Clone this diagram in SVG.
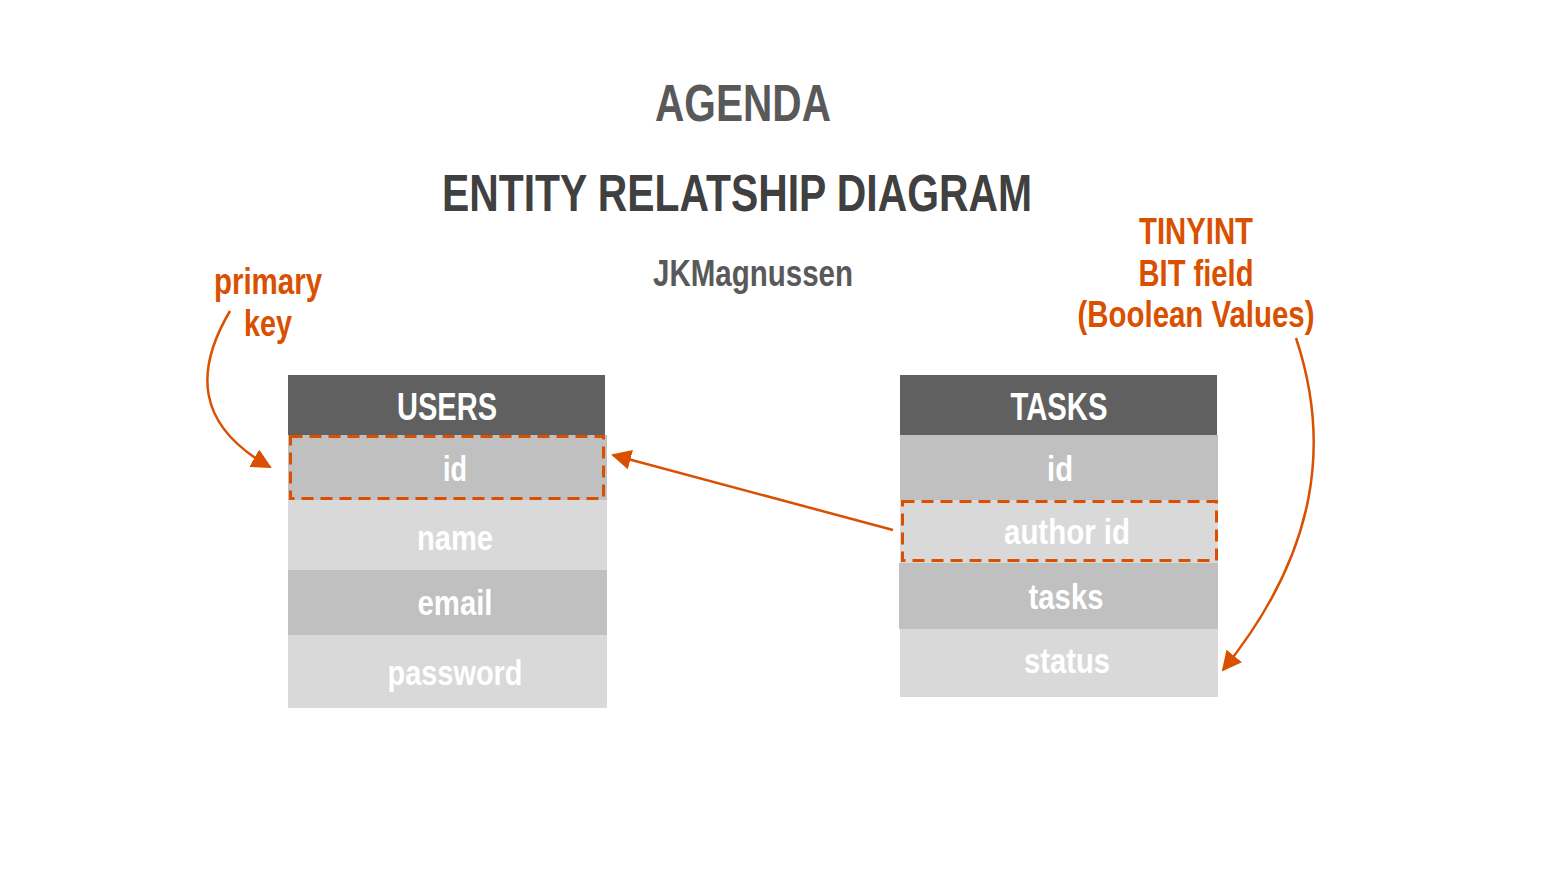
<svg xmlns="http://www.w3.org/2000/svg" width="1563" height="882" viewBox="0 0 1563 882">
<style>
text{font-family:"Liberation Sans Narrow","Liberation Sans",Arial,sans-serif;font-weight:bold;text-anchor:middle}
.hdr{fill:#606060}
.dk{fill:#c0c0c0}
.lt{fill:#d9d9d9}
.ht{fill:#ffffff;font-size:38px}
.rt{fill:#ffffff;font-size:35px}
.or{fill:#d95000;font-size:37px}
.dash{fill:none;stroke:#d95000;stroke-width:3;stroke-dasharray:12,7}
.con{fill:none;stroke:#d95000;stroke-width:2.5}
</style>
<defs>
<marker id="ah2" viewBox="0 0 10 10" refX="9" refY="5" markerWidth="8" markerHeight="8" orient="auto">
<path d="M0,0 L10,5 L0,10 z" fill="#d95000"/>
</marker>
</defs>
<rect width="1563" height="882" fill="#ffffff"/>
<g id="titles">
<text x="743" y="121" textLength="176" lengthAdjust="spacingAndGlyphs" style="font-size:51px;fill:#595959">AGENDA</text>
<text x="737" y="211" textLength="590" lengthAdjust="spacingAndGlyphs" style="font-size:51px;fill:#404040">ENTITY RELATSHIP DIAGRAM</text>
<text x="753" y="286" textLength="200" lengthAdjust="spacingAndGlyphs" style="font-size:36px;fill:#595959">JKMagnussen</text>
</g>
<g id="users">
<rect class="hdr" x="288" y="375" width="317" height="60"/>
<rect class="dk" x="288" y="435" width="319" height="65"/>
<rect class="lt" x="288" y="500" width="319" height="70"/>
<rect class="dk" x="288" y="570" width="319" height="65"/>
<rect class="lt" x="288" y="635" width="319" height="73"/>
<text class="ht" x="447" y="420" textLength="100" lengthAdjust="spacingAndGlyphs">USERS</text>
<text class="rt" x="455" y="481" textLength="24" lengthAdjust="spacingAndGlyphs">id</text>
<text class="rt" x="455" y="550" textLength="76" lengthAdjust="spacingAndGlyphs">name</text>
<text class="rt" x="455" y="615" textLength="75" lengthAdjust="spacingAndGlyphs">email</text>
<text class="rt" x="455" y="685" textLength="135" lengthAdjust="spacingAndGlyphs">password</text>
<rect class="dash" x="290.5" y="436.5" width="313" height="62"/>
</g>
<g id="tasks">
<rect class="hdr" x="900" y="375" width="317" height="60"/>
<rect class="dk" x="900" y="435" width="318" height="65"/>
<rect class="lt" x="900" y="500" width="318" height="63"/>
<rect class="dk" x="899" y="563" width="319" height="66"/>
<rect class="lt" x="900" y="629" width="318" height="68"/>
<text class="ht" x="1059" y="420" textLength="97" lengthAdjust="spacingAndGlyphs">TASKS</text>
<text class="rt" x="1060" y="481" textLength="26" lengthAdjust="spacingAndGlyphs">id</text>
<text class="rt" x="1067" y="544" textLength="126" lengthAdjust="spacingAndGlyphs">author id</text>
<text class="rt" x="1066" y="609" textLength="75" lengthAdjust="spacingAndGlyphs">tasks</text>
<text class="rt" x="1067" y="673" textLength="86" lengthAdjust="spacingAndGlyphs">status</text>
<rect class="dash" x="902.5" y="501.5" width="314" height="59"/>
</g>
<g id="primary-key-note">
<text class="or" x="268" y="294" textLength="108" lengthAdjust="spacingAndGlyphs">primary</text>
<text class="or" x="268" y="336" textLength="48" lengthAdjust="spacingAndGlyphs">key</text>
</g>
<g id="tinyint-note">
<text class="or" x="1196" y="244" textLength="114" lengthAdjust="spacingAndGlyphs">TINYINT</text>
<text class="or" x="1196" y="286" textLength="115" lengthAdjust="spacingAndGlyphs">BIT field</text>
<text class="or" x="1196" y="327" textLength="237" lengthAdjust="spacingAndGlyphs">(Boolean Values)</text>
</g>
<g id="connectors">
<path class="con" d="M230,311 C195,370 195,425 270,467" marker-end="url(#ah2)"/>
<path class="con" d="M893,530 L613,455" marker-end="url(#ah2)"/>
<path class="con" d="M1296,338 C1330,440 1320,550 1223,670" marker-end="url(#ah2)"/>
</g>
</svg>
